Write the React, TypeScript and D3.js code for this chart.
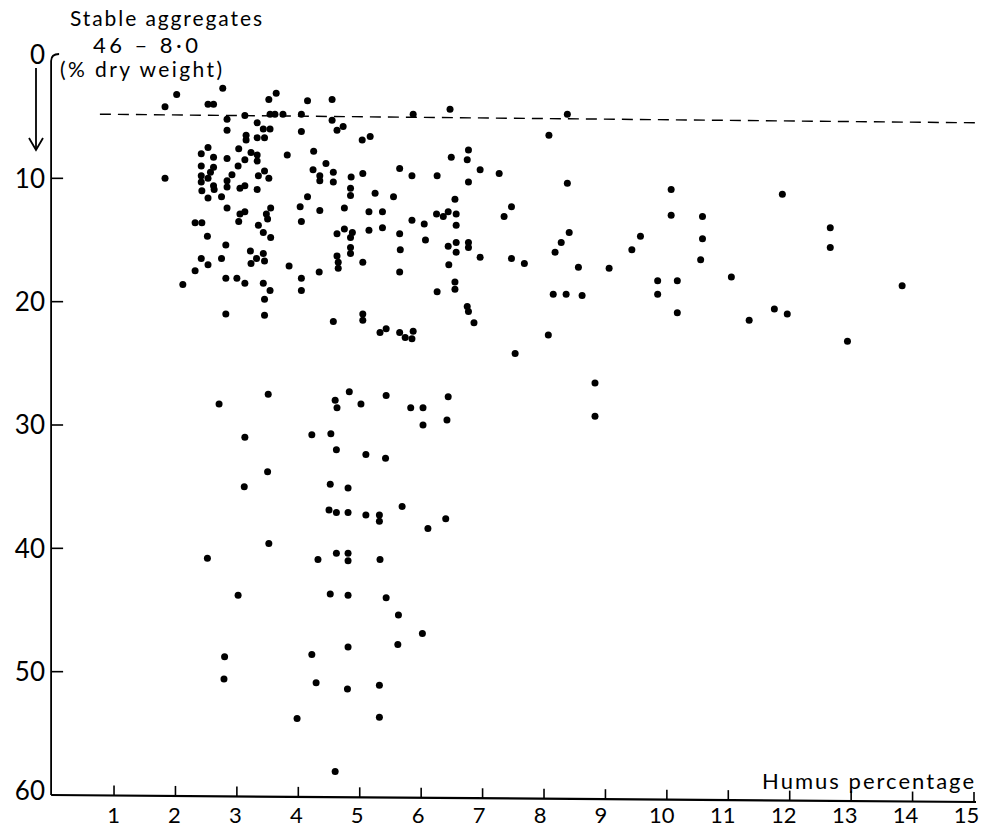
import React from "react";
import * as d3 from "d3";

const WIDTH = 983;
const HEIGHT = 829;

// axis ticks as printed
const xTicks = [1, 2, 3, 4, 5, 6, 7, 8, 9, 10, 11, 12, 13, 14, 15];
const yTicks = [0, 10, 20, 30, 40, 50, 60];
const xTitle = "Humus percentage";
const yTitle = ["Stable aggregates", "46 – 8·0", "(% dry weight)"];

// the dashed reference line (drawn slightly sloped in the original)
const refLineX = [0.77, 15.1];
const refLineY = [4.8, 5.5];

// [humus %, stable aggregates %]
const upperLeftPoints: [number, number][] = [
  [1.83, 4.2], [2.02, 3.2], [2.53, 4.0], [2.62, 4.0], [2.77, 2.7], [1.83, 10.0], [2.84, 5.2], [2.84, 6.1],
  [3.13, 4.9], [3.15, 6.5], [3.15, 6.9], [3.33, 5.5], [3.33, 6.7], [3.45, 6.7], [3.43, 6.0], [3.54, 6.0],
  [3.52, 3.6], [3.64, 3.1], [3.54, 4.8], [3.62, 4.8], [3.75, 4.8], [4.05, 4.8], [4.15, 3.7], [4.05, 6.2],
  [4.55, 3.6], [4.55, 5.3], [4.63, 6.1], [4.73, 5.8], [5.04, 6.9], [5.17, 6.6],
  [2.42, 8.0], [2.53, 7.5], [2.62, 8.3], [2.84, 8.4], [3.03, 7.6], [3.23, 7.9], [3.33, 8.1], [3.33, 8.6],
  [3.13, 8.5], [3.02, 9.0], [3.82, 8.1], [4.25, 7.8], [4.45, 8.8],
  [2.42, 9.0], [2.62, 9.1], [2.57, 9.5], [2.42, 9.8], [2.42, 10.3], [2.53, 10.0], [2.62, 10.6], [2.63, 10.9],
  [2.43, 11.0], [2.84, 10.2], [2.84, 10.7], [2.92, 9.7], [3.35, 9.8], [3.45, 9.4], [3.52, 10.0], [3.05, 10.8],
  [3.13, 10.6], [3.33, 10.9],
  [2.53, 11.6], [2.75, 11.5], [2.84, 12.4], [3.05, 12.9], [3.13, 12.7], [3.03, 13.5], [3.48, 12.9], [3.55, 12.4],
  [3.5, 13.3], [2.32, 13.6], [2.43, 13.6], [2.52, 14.7], [3.35, 13.8], [3.43, 14.4], [3.55, 14.8],
  [4.24, 9.3], [4.35, 9.8], [4.35, 10.2], [4.57, 9.5], [4.57, 10.3], [4.86, 9.9], [5.05, 9.6], [4.85, 10.8],
  [4.85, 11.4], [4.15, 11.5], [4.03, 12.3], [4.35, 12.6], [4.75, 12.4], [5.25, 11.2], [5.55, 11.5], [5.65, 9.2],
  [5.15, 12.7], [5.37, 12.7], [4.05, 13.5], [4.63, 14.5], [4.75, 14.1], [4.88, 14.4], [4.85, 14.8], [5.15, 14.2],
  [5.37, 14.0], [5.65, 14.5],
];

const upperRightPoints: [number, number][] = [
  [5.87, 4.8], [6.47, 4.4], [8.38, 4.8], [8.08, 6.5], [6.77, 7.7], [6.49, 8.3], [6.75, 8.5], [5.85, 9.8],
  [6.26, 9.8], [6.96, 9.3], [7.27, 9.6], [6.77, 10.3], [8.38, 10.4], [10.07, 10.9], [6.55, 11.7], [7.47, 12.3],
  [6.25, 12.9], [6.36, 13.1], [6.44, 12.7], [6.57, 12.9], [7.35, 13.1], [10.07, 13.0], [10.58, 13.1], [5.85, 13.4],
  [6.05, 13.7], [6.57, 13.8], [6.07, 15.0], [8.41, 14.4], [8.28, 15.2], [8.18, 16.0], [9.57, 14.7], [9.43, 15.8],
  [10.58, 14.9], [6.44, 15.5], [6.57, 15.2], [6.57, 16.0], [6.77, 15.2], [6.77, 15.6], [5.66, 15.8], [6.96, 16.4],
  [7.47, 16.5], [10.55, 16.6],
  [11.88, 11.3], [11.05, 18.0], [11.34, 21.5], [11.75, 20.6], [11.96, 21.0], [12.66, 14.0], [12.66, 15.6],
  [13.83, 18.7], [12.94, 23.2],
  [7.68, 16.9], [8.56, 17.2], [9.06, 17.3], [9.85, 18.3], [9.85, 19.4], [10.17, 18.3], [10.17, 20.9], [8.15, 19.4],
  [8.36, 19.4], [8.62, 19.5], [8.07, 22.7], [7.53, 24.2], [8.83, 26.6], [8.83, 29.3],
];

const middlePoints: [number, number][] = [
  [2.12, 18.6], [2.32, 17.5], [2.42, 16.5], [2.53, 17.0], [2.75, 16.5], [2.82, 15.4], [2.82, 18.1], [3.0, 18.1],
  [3.13, 18.5], [2.82, 21.0], [3.22, 15.9], [3.23, 16.9], [3.32, 16.5], [3.43, 16.1], [3.45, 16.7], [3.43, 18.5],
  [3.54, 19.1], [3.45, 19.8], [3.45, 21.1], [3.85, 17.1], [4.05, 18.1], [4.05, 19.1], [4.34, 17.6], [4.63, 16.3],
  [4.65, 16.8], [4.65, 17.3], [4.85, 15.6], [4.85, 16.1], [5.05, 16.8], [4.57, 21.6], [5.05, 21.0], [5.05, 21.5],
  [5.33, 22.5], [5.43, 22.2], [5.65, 22.5], [5.74, 22.9], [5.85, 23.0], [5.87, 22.4], [5.65, 17.6], [6.45, 17.0],
  [6.55, 18.4], [6.55, 19.0], [6.26, 19.2], [6.75, 20.4], [6.77, 20.8], [6.86, 21.7],
];

const lowerPoints: [number, number][] = [
  [3.51, 27.5], [2.71, 28.3], [3.13, 31.0], [3.5, 33.8], [3.12, 35.0], [4.22, 30.8], [4.53, 30.7], [4.62, 32.0],
  [4.6, 28.0], [4.63, 28.6], [4.83, 27.3], [5.02, 28.3], [5.43, 27.6], [5.1, 32.4], [5.42, 32.7], [5.83, 28.6],
  [6.03, 28.6], [6.03, 30.0], [6.44, 27.7], [6.42, 29.6], [4.52, 34.8], [4.81, 35.1],
  [4.5, 36.9], [4.62, 37.1], [4.81, 37.1], [5.1, 37.3], [5.32, 37.3], [5.32, 37.8], [5.69, 36.6], [6.11, 38.4],
  [6.4, 37.6], [3.52, 39.6], [2.52, 40.8], [4.32, 40.9], [4.62, 40.4], [4.81, 40.4], [4.81, 41.0], [5.33, 40.9],
  [3.02, 43.8], [4.52, 43.7], [4.81, 43.8], [5.43, 44.0], [5.63, 45.4], [6.02, 46.9], [5.62, 47.8], [4.81, 48.0],
  [2.8, 48.8], [4.22, 48.6], [2.79, 50.6], [4.29, 50.9], [4.8, 51.4], [5.32, 51.1], [3.98, 53.8], [5.32, 53.7],
  [4.6, 58.1],
];

const FONT = "Lato, 'DejaVu Sans', sans-serif";

export default function App() {
  const x = d3.scaleLinear().domain([0, 15]).range([52.6, 974]);
  const y = d3.scaleLinear().domain([0, 60]).range([55, 795]);

  const axisX = x(0) - 1.5;
  const base = y(60);
  // the baseline drops a few pixels toward the right in the original drawing
  const baseAt = (v: number) => base + (7 * v) / 15;

  const allPoints = [...upperLeftPoints, ...upperRightPoints, ...middlePoints, ...lowerPoints];

  const refLine = d3
    .line<number>()
    .x((_, i) => x(refLineX[i]))
    .y((_, i) => y(refLineY[i]))(refLineX);

  const arrowX = 36;
  const arrowTop = y(0) + 13;
  const arrowBottom = y(0) + 95;

  return (
    <svg
      width={WIDTH}
      height={HEIGHT}
      style={{ position: "absolute", left: 0, top: 0, background: "#fff" }}
      fontFamily={FONT}
    >
      {/* y axis with bracket at the top */}
      <path
        d={`M${axisX + 8},${y(0) - 1} Q${axisX},${y(0) - 1} ${axisX},${y(0) + 6} L${axisX},${base}`}
        fill="none"
        stroke="#000"
        strokeWidth={1.8}
      />
      {yTicks
        .filter((t) => t > 0 && t < 60)
        .map((t) => (
          <line key={t} x1={axisX} x2={axisX + 12} y1={y(t)} y2={y(t)} stroke="#000" strokeWidth={1.6} />
        ))}
      {yTicks.map((t) => (
        <text key={t} x={45} y={y(t) - (t === 60 ? 4 : 0)} dy="0.36em" textAnchor="end" fontSize={26} fill="#000">
          {t}
        </text>
      ))}

      {/* downward arrow under the 0 */}
      <line x1={arrowX} x2={arrowX} y1={arrowTop} y2={arrowBottom} stroke="#000" strokeWidth={1.8} />
      <polyline
        points={`${arrowX - 7},${arrowBottom - 12} ${arrowX},${arrowBottom} ${arrowX + 7},${arrowBottom - 12}`}
        fill="none"
        stroke="#000"
        strokeWidth={1.8}
      />

      {/* x axis */}
      <line x1={axisX} x2={x(15) + 2} y1={base} y2={baseAt(15)} stroke="#000" strokeWidth={2.2} />
      {xTicks.map((t) => (
        <line key={t} x1={x(t)} x2={x(t)} y1={baseAt(t)} y2={baseAt(t) - 10} stroke="#000" strokeWidth={1.6} />
      ))}
      {xTicks.map((t) => (
        <text key={t} x={x(t) - t * 0.5} y={823} textAnchor="middle" fontSize={22} fill="#000">
          {t}
        </text>
      ))}
      <text x={762} y={789} fontSize={22} fill="#000" textLength={212} lengthAdjust="spacing">
        {xTitle}
      </text>

      {/* y title */}
      <text x={70} y={26} fontSize={21} fill="#000" textLength={192} lengthAdjust="spacing">
        {yTitle[0]}
      </text>
      <text x={93} y={53} fontSize={22} fill="#000" textLength={105} lengthAdjust="spacing">
        {yTitle[1]}
      </text>
      <text x={60} y={77} fontSize={21} fill="#000" textLength={162} lengthAdjust="spacing">
        {yTitle[2]}
      </text>

      {/* dashed reference line */}
      <path d={refLine ?? ""} fill="none" stroke="#000" strokeWidth={1.4} strokeDasharray="11,7" />

      {/* points */}
      {allPoints.map((d, i) => (
        <circle key={i} cx={x(d[0])} cy={y(d[1])} r={3.5} fill="#000" />
      ))}
    </svg>
  );
}
